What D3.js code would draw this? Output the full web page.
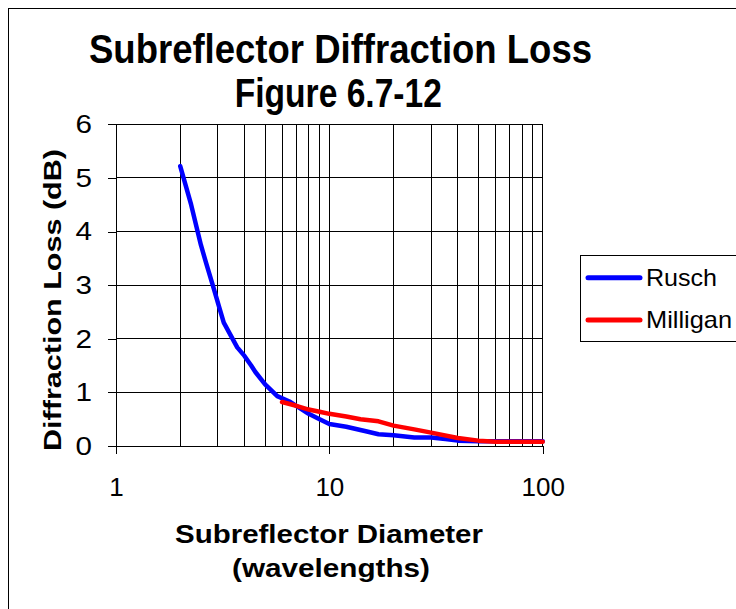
<!DOCTYPE html>
<html>
<head>
<meta charset="utf-8">
<script src="https://cdn.jsdelivr.net/npm/d3@7"></script>
<style>
  body { margin: 0; background: #fff; }
  svg text { font-family: "Liberation Sans", Arial, sans-serif; }
</style>
</head>
<body>
<div id="chart"></div>
<script>
// data
const ruschD = [2, 2.25, 2.5, 2.65, 2.85, 3.05, 3.2, 3.7, 4, 4.3, 4.5, 5, 5.7, 6.5, 7, 8, 9, 10, 12, 15, 17, 20, 25, 30, 35, 40, 50, 100];
const ruschLoss = [5.22, 4.5, 3.75, 3.4, 2.98, 2.58, 2.3, 1.84, 1.68, 1.5, 1.38, 1.15, 0.93, 0.83, 0.75, 0.6, 0.5, 0.41, 0.36, 0.27, 0.22, 0.2, 0.16, 0.16, 0.13, 0.1, 0.09, 0.09];
const milliganD = [6, 7, 8, 9, 10, 12, 14, 17, 20, 25, 30, 40, 50, 60, 100];
const milliganLoss = [0.82, 0.75, 0.68, 0.64, 0.6, 0.55, 0.5, 0.46, 0.38, 0.31, 0.25, 0.15, 0.1, 0.08, 0.08];
const seriesNames = ["Rusch", "Milligan"];
const seriesColors = ["#0000ff", "#ff0000"];
const xTickLabels = [1, 10, 100];
const yTickLabels = [0, 1, 2, 3, 4, 5, 6];

const W = 736, H = 609;
const svg = d3.select("#chart").append("svg")
    .attr("width", W)
    .attr("height", H);

// outer chart frame (runs off the right/bottom edges)
svg.append("rect")
    .attr("x", 8.5).attr("y", 8.5)
    .attr("width", 760).attr("height", 640)
    .attr("fill", "none").attr("stroke", "#000");

const x = d3.scaleLog().domain([1, 100]).range([116, 542.7]);
const y = d3.scaleLinear().domain([0, 6]).range([446, 124.3]);

// grid
const grid = svg.append("g").attr("stroke", "#000").attr("stroke-width", 1).attr("shape-rendering", "crispEdges");
grid.selectAll(".vg").data(x.ticks().filter(v => v > 1))
  .enter().append("line")
    .attr("x1", d => x(d)).attr("x2", d => x(d))
    .attr("y1", y(0)).attr("y2", y(6));
grid.selectAll(".hg").data(yTickLabels.filter(v => v > 0))
  .enter().append("line")
    .attr("x1", x(1)).attr("x2", x(100))
    .attr("y1", d => y(d)).attr("y2", d => y(d));

// axes
const yAxis = svg.append("g")
    .attr("transform", `translate(${x(1)},0)`)
    .call(d3.axisLeft(y).tickValues(yTickLabels).tickFormat(d3.format("d")).tickSize(8).tickPadding(16));
const xAxis = svg.append("g")
    .attr("transform", `translate(0,${y(0)})`)
    .call(d3.axisBottom(x).tickValues(xTickLabels).tickFormat(d3.format("d")).tickSize(8).tickPadding(24));
[xAxis, yAxis].forEach(a => {
  a.select(".domain").attr("stroke", "#000").attr("shape-rendering", "crispEdges");
  a.selectAll(".tick line").attr("stroke", "#000").attr("shape-rendering", "crispEdges");
  a.selectAll(".tick text").attr("fill", "#000")
    .style("font-family", "'Liberation Sans', Arial, sans-serif")
    .style("font-size", "26px");
});
xAxis.selectAll(".tick text").attr("dy", "0.71em");
// the y labels in the original are drawn a bit wider
yAxis.selectAll(".tick text")
    .attr("textLength", 16.5).attr("lengthAdjust", "spacingAndGlyphs");

// series
const line = d3.line().x(d => x(d[0])).y(d => y(d[1]));
const series = [
  d3.zip(ruschD, ruschLoss),
  d3.zip(milliganD, milliganLoss)
];
svg.selectAll(".series").data(series)
  .enter().append("path")
    .attr("d", line)
    .attr("fill", "none")
    .attr("stroke", (d, i) => seriesColors[i])
    .attr("stroke-width", 4.5)
    .attr("stroke-linejoin", "round")
    .attr("stroke-linecap", "round");

// titles
svg.append("text")
    .attr("x", 340.5).attr("y", 62.7)
    .attr("text-anchor", "middle")
    .attr("font-weight", "bold").attr("font-size", 41)
    .attr("textLength", 503).attr("lengthAdjust", "spacingAndGlyphs")
    .text("Subreflector Diffraction Loss");
svg.append("text")
    .attr("x", 338.3).attr("y", 107)
    .attr("text-anchor", "middle")
    .attr("font-weight", "bold").attr("font-size", 41)
    .attr("textLength", 207).attr("lengthAdjust", "spacingAndGlyphs")
    .text("Figure 6.7-12");

svg.append("text")
    .attr("transform", "translate(61,300) rotate(-90)")
    .attr("text-anchor", "middle")
    .attr("font-weight", "bold").attr("font-size", 24)
    .attr("textLength", 302).attr("lengthAdjust", "spacingAndGlyphs")
    .text("Diffraction Loss (dB)");

svg.append("text")
    .attr("x", 329).attr("y", 543.3)
    .attr("text-anchor", "middle")
    .attr("font-weight", "bold").attr("font-size", 25)
    .attr("textLength", 308).attr("lengthAdjust", "spacingAndGlyphs")
    .text("Subreflector Diameter");
svg.append("text")
    .attr("x", 331).attr("y", 576.7)
    .attr("text-anchor", "middle")
    .attr("font-weight", "bold").attr("font-size", 25)
    .attr("textLength", 198).attr("lengthAdjust", "spacingAndGlyphs")
    .text("(wavelengths)");

// legend
const legend = svg.append("g");
legend.append("rect")
    .attr("x", 580.5).attr("y", 255.5)
    .attr("width", 200).attr("height", 86)
    .attr("fill", "#fff").attr("stroke", "#000");
const items = legend.selectAll(".item").data(seriesNames)
  .enter().append("g")
    .attr("transform", (d, i) => `translate(0,${277.7 + i * 42.3})`);
items.append("line")
    .attr("x1", 588).attr("x2", 640)
    .attr("stroke", (d, i) => seriesColors[i])
    .attr("stroke-width", 5)
    .attr("stroke-linecap", "round");
items.append("text")
    .attr("x", 646).attr("dy", "0.35em")
    .attr("font-size", 24)
    .attr("textLength", (d, i) => [71, 86][i]).attr("lengthAdjust", "spacingAndGlyphs")
    .text(d => d);
</script>
</body>
</html>
